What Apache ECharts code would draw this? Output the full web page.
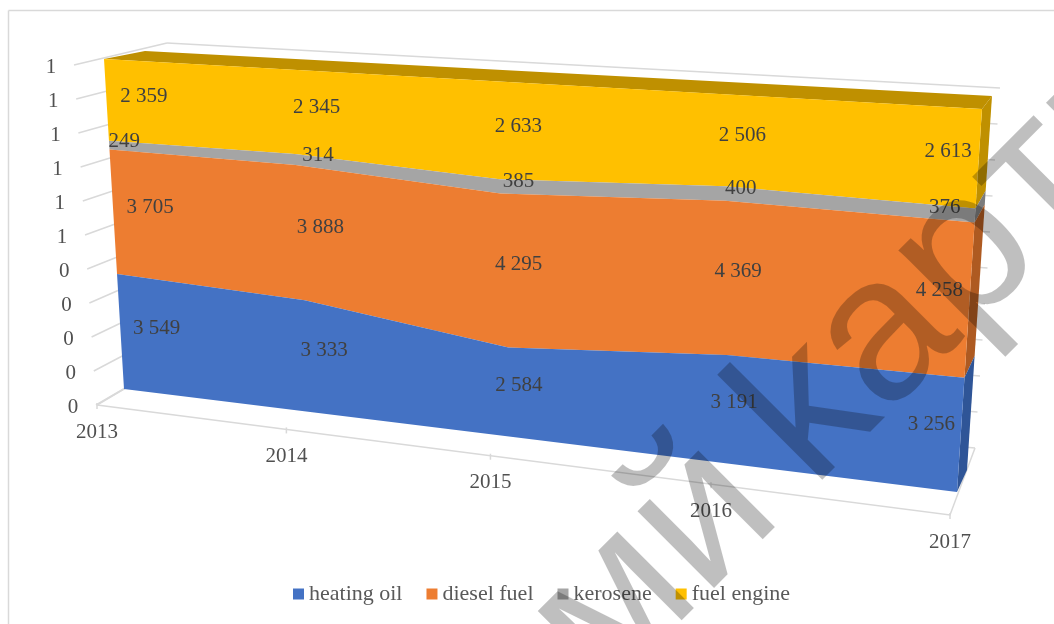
<!DOCTYPE html>
<html>
<head>
<meta charset="utf-8">
<style>html,body{margin:0;padding:0;background:#fff}#c{width:1054px;height:624px}</style>
<script src="https://cdn.jsdelivr.net/npm/echarts@6/dist/echarts.min.js"></script>
</head>
<body>
<div id="c"></div>
<script>
const years = ['2013', '2014', '2015', '2016', '2017'];
const heatingOil = [3549, 3333, 2584, 3191, 3256];
const dieselFuel = [3705, 3888, 4295, 4369, 4258];
const kerosene = [249, 314, 385, 400, 376];
const fuelEngine = [2359, 2345, 2633, 2506, 2613];
const yTicks = [0, 0.1, 0.2, 0.3, 0.4, 0.5, 0.6, 0.7, 0.8, 0.9, 1];
const yTickLabels = ['0', '0', '0', '0', '0', '1', '1', '1', '1', '1', '1'];
const seriesNames = ['heating oil', 'diesel fuel', 'kerosene', 'fuel engine'];
const seriesValues = [heatingOil, dieselFuel, kerosene, fuelEngine];
const frontColors = ['#4472C4', '#ED7D31', '#A5A5A5', '#FFC000'];
const sideColors = ['#2F5597', '#AE5A21', '#7C7C7C', '#BF9000'];
const labelDepth = [0.05, 0.272, 0.513, 0.76, 0.97];

// Perspective of the 3D box: maps the unit plot square on to each face.
function quad(p0, p1, p2, p3) {
  const dx1 = p1[0] - p2[0], dx2 = p3[0] - p2[0], sx = p0[0] - p1[0] + p2[0] - p3[0];
  const dy1 = p1[1] - p2[1], dy2 = p3[1] - p2[1], sy = p0[1] - p1[1] + p2[1] - p3[1];
  const den = dx1 * dy2 - dx2 * dy1;
  const g = (sx * dy2 - dx2 * sy) / den, h = (dx1 * sy - sx * dy1) / den;
  const a = p1[0] - p0[0] + g * p1[0], b = p3[0] - p0[0] + h * p3[0], c = p0[0];
  const d = p1[1] - p0[1] + g * p1[1], e = p3[1] - p0[1] + h * p3[1], f = p0[1];
  return (u, v) => { const w = g * u + h * v + 1; return [(a * u + b * v + c) / w, (d * u + e * v + f) / w]; };
}
function bilinear(p0, p1, p2, p3) {
  return (u, v) => [0, 1].map(k => {
    const lo = p0[k] + (p1[k] - p0[k]) * u, hi = p3[k] + (p2[k] - p3[k]) * u;
    return lo + (hi - lo) * v;
  });
}
const frontRaw = quad([124, 389], [957, 492], [982, 109], [104, 59]);
const frontFace = (u, v) => frontRaw(u + (0.3 - v) * 0.08 * u * (1 - u), v);
const backFace = quad([142, 378], [967, 470], [992, 96], [145, 51]);
const leftWall = bilinear([96, 405], [151, 373], [167, 43], [74, 65]);
const backWall = bilinear([151, 373], [975, 448], [1000, 88], [167, 43]);
const floorFace = bilinear([97, 405], [950, 515], [975, 448], [151, 373]);
const floorDepth = u => u / (u + (1 - u) * 1.168);

const totals = years.map((_, i) => seriesValues.reduce((s, a) => s + a[i], 0));
const fmt = n => String(n).replace(/\B(?=(\d{3})+$)/, ' ');
function unit(api, params, x, y) {
  const p = api.coord([x, y]), r = params.coordSys;
  return [(p[0] - r.x) / r.width, 1 - (p[1] - r.y) / r.height];
}
const lineStyle = { stroke: '#D9D9D9', lineWidth: 1.5, fill: null };
const textFill = '#505050';

function bandRows(k) {
  return years.map((_, i) => {
    let base = 0;
    for (let j = 0; j < k; j++) base += seriesValues[j][i] / totals[i];
    return [i, base, base + seriesValues[k][i] / totals[i], seriesValues[k][i]];
  });
}
function bandSeries(k) {
  const rows = bandRows(k);
  return {
    type: 'custom', name: seriesNames[k], data: rows, z: 3, clip: false,
    coordinateSystem: 'cartesian2d', encode: { x: 0, y: [1, 2] },
    itemStyle: { color: frontColors[k] },
    renderItem(params, api) {
      const i = params.dataIndex, children = [];
      const n = rows.length - 1;
      if (i === 0) {
        const uv = rows.map(r => unit(api, params, r[0], r[2]));
        const lo = rows.map(r => unit(api, params, r[0], r[1]));
        const pts = uv.map(q => frontFace(q[0], q[1])).concat(lo.map(q => frontFace(q[0], q[1])).reverse());
        const a = lo[n], b = uv[n];
        children.push({ type: 'polygon', shape: { points: [frontFace(a[0], a[1]), frontFace(b[0], b[1]), backFace(b[0], b[1]), backFace(a[0], a[1])] }, style: { fill: sideColors[k] } });
        if (k === seriesNames.length - 1) {
          const l = uv[0], t = uv[n];
          children.push({ type: 'polygon', shape: { points: [frontFace(l[0], l[1]), frontFace(t[0], t[1]), backFace(t[0], t[1]), backFace(l[0], l[1])] }, style: { fill: sideColors[k] } });
        }
        children.push({ type: 'polygon', shape: { points: pts }, style: { fill: frontColors[k] } });
      }
      const r = rows[i];
      const q = unit(api, params, r[0], (r[1] + r[2]) / 2);
      const p = frontRaw(labelDepth[i], q[1]);
      const nudge = seriesNames[k] === 'kerosene' && i === 0 ? -22 : 0;
      const lift = k >= 2 ? 6 : 8;
      children.push({ type: 'text', style: { x: p[0] + nudge, y: p[1] - lift, text: fmt(r[3]), font: '21px "Liberation Serif"', fill: '#404040', align: 'center', verticalAlign: 'middle' } });
      return { type: 'group', children };
    }
  };
}

const yAxisSeries = {
  type: 'custom', name: 'value axis', silent: true, z: 1, clip: false,
  coordinateSystem: 'cartesian2d', data: yTicks.map((v, i) => [0, v, yTickLabels[i]]), encode: { x: 0, y: 1 },
  renderItem(params, api) {
    const v = unit(api, params, 0, api.value(1))[1];
    const a = leftWall(0, v), b = leftWall(1, v), c = backWall(0, v), d = backWall(1, v);
    return { type: 'group', children: [
      { type: 'polyline', shape: { points: [a, b] }, style: lineStyle },
      { type: 'polyline', shape: { points: [c, d] }, style: lineStyle },
      { type: 'text', style: { x: a[0] - 23, y: a[1] + 2, text: yTickLabels[params.dataIndex], font: '21px "Liberation Serif"', fill: textFill, align: 'center', verticalAlign: 'middle' } }
    ] };
  }
};
const xAxisSeries = {
  type: 'custom', name: 'category axis', silent: true, z: 1, clip: false,
  coordinateSystem: 'cartesian2d', data: years.map((y, i) => [i, 0]), encode: { x: 0, y: 1 },
  renderItem(params, api) {
    const u = unit(api, params, api.value(0), 0)[0];
    const a = floorFace(floorDepth(u), 0), children = [];
    if (params.dataIndex === 0) {
      children.push({ type: 'polyline', shape: { points: [floorFace(0, 0), floorFace(1, 0), floorFace(1, 1)] }, style: lineStyle });
      children.push({ type: 'polyline', shape: { points: [floorFace(0, 0), floorFace(0, 1)] }, style: lineStyle });
    }
    children.push({ type: 'polyline', shape: { points: [[a[0], a[1] - 2], [a[0], a[1] + 4]] }, style: lineStyle });
    children.push({ type: 'text', style: { x: a[0], y: a[1] + 27, text: years[params.dataIndex], font: '21px "Liberation Serif"', fill: textFill, align: 'center', verticalAlign: 'middle' } });
    return { type: 'group', children };
  }
};

const watermarkStyle = { font: '205px "Liberation Sans"', fill: 'rgba(0,0,0,0.25)', verticalAlign: 'bottom' };
const chart = echarts.init(document.getElementById('c'), null, { renderer: 'canvas' });
chart.setOption({
  animation: false,
  backgroundColor: '#fff',
  grid: { left: 100, right: 100, top: 50, bottom: 100 },
  xAxis: { type: 'value', min: 0, max: 4, show: false },
  yAxis: { type: 'value', min: 0, max: 1, show: false },
  legend: {
    data: seriesNames, left: 293, top: 583, padding: 0, itemWidth: 11, itemHeight: 11, itemGap: 24,
    icon: 'rect', textStyle: { fontFamily: 'Liberation Serif', fontSize: 22, color: '#595959' }
  },
  graphic: [
    { type: 'line', z: 0, silent: true, shape: { x1: 8.5, y1: 10.5, x2: 1054, y2: 10.5 }, style: { stroke: '#D9D9D9', lineWidth: 1.5 } },
    { type: 'line', z: 0, silent: true, shape: { x1: 8.5, y1: 10.5, x2: 8.5, y2: 624 }, style: { stroke: '#D9D9D9', lineWidth: 1.5 } },
    { type: 'text', z: 100, silent: true, x: 817.5, y: 549.5, rotation: Math.PI / 4,
      style: Object.assign({ text: 'мй', align: 'right' }, watermarkStyle) },
    { type: 'text', z: 100, silent: true, x: 845, y: 522, rotation: Math.PI / 4,
      style: Object.assign({ text: 'kapти', align: 'left' }, watermarkStyle) }
  ],
  series: [xAxisSeries, yAxisSeries].concat([3, 2, 1, 0].map(bandSeries))
});
</script>
</body>
</html>
